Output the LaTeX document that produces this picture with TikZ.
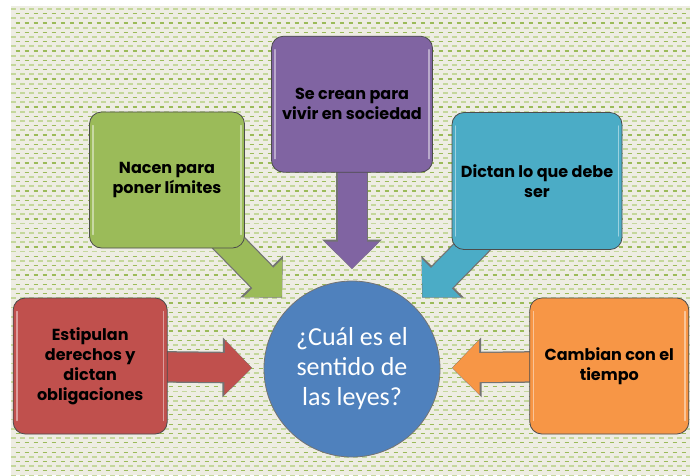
\documentclass[tikz,border=0pt]{standalone}
\usepackage{fontspec}
\newfontfamily\cajafont{Poppins}
\newfontfamily\circfont{Carlito}
\usetikzlibrary{positioning, arrows.meta, backgrounds}

\definecolor{papel}{HTML}{EEEDE3}
\definecolor{verdeclaro}{HTML}{C4D79B}
\definecolor{verdeoscuro}{HTML}{9BBB59}
\definecolor{morado}{HTML}{8064A2}
\definecolor{verde}{HTML}{9BBB59}
\definecolor{celeste}{HTML}{4BACC6}
\definecolor{rojo}{HTML}{C0504D}
\definecolor{naranja}{HTML}{F79646}
\definecolor{azul}{HTML}{4F81BD}

\begin{document}
\begin{tikzpicture}[
        x=1pt, y=-1pt,
        tema/.style={rectangle, draw=black!70, line width=0.8pt, rounded corners=12pt, minimum height=136pt, align=center, text=black, font=\cajafont\bfseries\fontsize{16}{20}\selectfont},
        pregunta/.style={circle, draw=black!55, line width=0.8pt, fill=azul, minimum size=176pt, inner sep=0pt, align=center, text=white, font=\circfont\fontsize{26}{30}\selectfont},
        flecha/.style={line width=29pt, -{Triangle[length=27pt, width=53pt]}, shorten >=12pt},
        borde/.style={line width=31.5pt, -{Triangle[length=29.5pt, width=58pt]}, shorten >=11.5pt, draw=black!55},
        brillo/.style={draw=white, opacity=0.45, line width=1.6pt, line cap=round},
        fondo claro/.style={draw=verdeclaro, line width=1.8pt, dash pattern=on 4.5pt off 4.5pt},
        fondo oscuro/.style={draw=verdeoscuro, line width=1.2pt, dash pattern=on 4.5pt off 4.5pt, dash phase=4.5pt}
    ]
        \useasboundingbox (0,0) rectangle (690,475);

        % Background
        \begin{pgfonlayer}{background}
        \fill[papel] (11,6) rectangle (690,475);
        \foreach \k in {0,...,50} {
            \draw[fondo claro] (11,{9+9.33*\k}) -- (690,{9+9.33*\k});
            \draw[fondo oscuro] (11,{13.67+9.33*\k}) -- (690,{13.67+9.33*\k});
        }
        \end{pgfonlayer}

        % Center
        \node [pregunta] (pregunta) at (352,369) {¿Cuál es el\\sentido de\\las leyes?};

        % Boxes
        \node [tema, fill=morado, minimum width=161pt, above=108pt of pregunta] (caja_crean) {Se crean para\\vivir en sociedad};
        \node [tema, fill=rojo, minimum width=154pt, left=96pt of pregunta, yshift=3pt] (caja_estipulan) {Estipulan\\derechos y\\dictan\\obligaciones};
        \node [tema, fill=naranja, minimum width=159pt, right=89pt of pregunta, yshift=3pt] (caja_cambian) {Cambian con el\\tiempo};
        % Diagonal ones
        \node [tema, fill=verde, minimum width=155pt] (caja_nacen) at (167,180) {Nacen para\\poner límites};
        \node [tema, fill=celeste, minimum width=170pt, minimum height=137pt] (caja_dictan) at (537,181) {Dictan lo que debe\\ser};

        % Gloss on the sides
        \foreach \caja in {caja_crean, caja_nacen, caja_dictan, caja_estipulan, caja_cambian} {
            \draw [brillo] ([shift={(4pt,-14pt)}]\caja.north west) -- ([shift={(4pt,14pt)}]\caja.south west);
            \draw [brillo] ([shift={(-4pt,-14pt)}]\caja.north east) -- ([shift={(-4pt,14pt)}]\caja.south east);
        }

        % Arrows
        \begin{pgfonlayer}{background}
        \foreach \caja/\col in {caja_crean/morado, caja_nacen/verde, caja_dictan/celeste, caja_estipulan/rojo, caja_cambian/naranja} {
            \draw [borde] (\caja.center) -- (pregunta);
            \draw [flecha, draw=\col] (\caja.center) -- (pregunta);
        }
        \end{pgfonlayer}

    \end{tikzpicture}
\end{document}
